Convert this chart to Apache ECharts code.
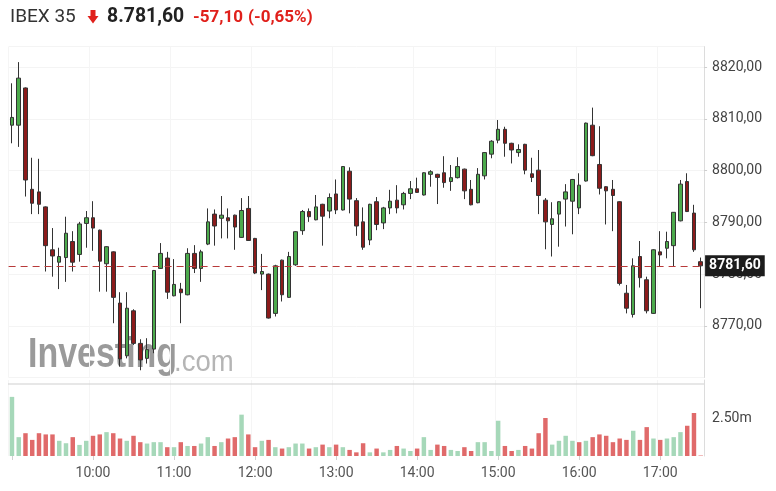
<!DOCTYPE html>
<html><head><meta charset="utf-8">
<script src="https://cdn.jsdelivr.net/npm/echarts@6/dist/echarts.min.js"></script>
<style>html,body{margin:0;padding:0;background:#fff}#c{width:776px;height:491px}</style>
</head><body><div id="c"></div>
<script>
// ---- header texts ----
const instrument = 'IBEX 35';
const lastPriceText = '8.781,60';
const changeText = '-57,10';
const changePctText = '(-0,65%)';

// ---- 5-minute session times (09:00 .. 17:30) ----
const categories = [];
for (let h = 9; h <= 17; h++) {
  for (let m = 0; m < 60; m += 5) {
    if (h === 17 && m > 30) break;
    categories.push(String(h).padStart(2, '0') + ':' + String(m).padStart(2, '0'));
  }
}

// ---- OHLC ----
const opens = [8808.8,8808.8,8816.0,8796.4,8795.9,8793.0,8784.7,8782.3,8783.2,8786.3,8783.8,8789.8,8790.9,8788.5,8782.0,8784.3,8774.4,8764.2,8772.9,8766.6,8763.7,8765.5,8781.1,8783.1,8775.8,
8777.1,8776.0,8784.0,8781.1,8785.8,8791.6,8790.8,8790.9,8791.4,8787.1,8792.7,8786.9,8780.0,8780.0,8772.4,8782.7,8775.5,8781.8,8788.4,8792.1,8790.5,8793.5,8792.2,8795.5,8792.4,8799.9,
8794.2,8790.1,8786.6,8794.0,8789.9,8792.8,8794.3,8793.4,8795.6,8796.5,8795.3,8799.3,8799.3,8799.6,8797.9,8798.65,8800.3,8796.4,8793.8,8799.0,8803.2,8805.9,8808.0,8805.3,8803.5,8805.1,
8799.4,8800.1,8794.3,8789.6,8791.6,8794.5,8794.1,8792.8,8798.0,8808.8,8801.2,8796.9,8796.4,8794.0,8776.3,8772.2,8783.4,8778.9,8772.4,8784.3,8785.0,8785.5,8790.3,8797.9,8791.8,8782.4];
const closes = [8810.3,8817.9,8798.2,8793.7,8793.5,8785.5,8783.5,8783.4,8787.9,8782.3,8789.7,8790.9,8788.9,8782.5,8785.3,8775.5,8763.6,8773.4,8766.6,8763.4,8765.4,8780.7,8784.0,8776.5,8778.0,
8776.4,8784.0,8781.1,8784.3,8790.1,8789.3,8791.4,8790.3,8789.1,8792.3,8786.5,8780.2,8780.5,8771.5,8781.6,8776.0,8783.4,8788.2,8792.1,8791.1,8793.0,8791.2,8794.8,8792.4,8800.8,8794.5,
8789.3,8785.2,8793.5,8789.6,8792.8,8794.1,8792.8,8795.6,8796.5,8795.8,8799.6,8799.8,8798.7,8797.7,8798.65,8800.8,8796.1,8793.4,8799.3,8803.5,8805.7,8808.0,8805.3,8804.0,8804.1,8800.1,
8798.7,8795.2,8790.1,8790.7,8794.0,8795.9,8798.3,8797.2,8809.2,8802.9,8796.6,8796.1,8795.2,8778.2,8773.4,8781.6,8779.3,8772.9,8784.7,8783.7,8786.3,8791.95,8797.4,8792.1,8784.7,8781.6];
const lows = [8805.3,8804.6,8795.0,8791.6,8791.6,8780.5,8779.5,8777.1,8778.5,8780.5,8782.4,8785.1,8784.5,8776.6,8776.6,8770.5,8762.1,8763.7,8766.3,8761.4,8762.7,8764.7,8781.0,8775.2,8775.7,
8770.5,8775.9,8780.2,8778.5,8785.6,8785.5,8786.9,8786.9,8784.7,8787.0,8786.4,8780.0,8776.9,8771.4,8771.8,8774.7,8775.4,8781.6,8787.6,8790.1,8790.4,8785.5,8790.8,8791.6,8792.3,8791.75,
8787.4,8784.7,8785.6,8788.5,8788.7,8791.6,8791.75,8792.5,8794.5,8795.7,8795.2,8796.9,8793.55,8796.7,8796.1,8798.5,8794.5,8793.3,8793.7,8798.3,8802.4,8805.3,8802.7,8801.4,8802.7,8799.3,
8797.8,8791.6,8784.8,8783.4,8785.3,8789.2,8787.7,8791.6,8797.9,8802.8,8795.4,8789.6,8788.3,8777.8,8772.4,8771.6,8777.4,8772.4,8772.3,8781.4,8783.05,8781.4,8790.2,8792.0,8784.3,8773.4];
const highs = [8816.9,8821.0,8816.1,8802.5,8802.3,8793.1,8788.9,8785.1,8791.1,8788.3,8790.1,8792.2,8794.1,8788.6,8785.4,8784.4,8776.5,8776.5,8773.2,8767.4,8767.6,8780.8,8786.0,8784.3,8782.9,
8778.3,8785.0,8785.6,8784.7,8792.7,8792.5,8795.1,8792.7,8791.5,8794.7,8795.1,8787.0,8783.9,8780.1,8781.8,8782.8,8784.3,8788.3,8792.4,8792.7,8795.3,8793.6,8795.6,8798.3,8800.9,8800.65,
8794.7,8792.9,8793.6,8794.9,8793.0,8796.3,8797.2,8795.9,8798.0,8798.65,8799.7,8800.1,8799.4,8802.8,8801.1,8802.6,8800.4,8798.2,8800.5,8803.6,8805.9,8809.8,8808.5,8805.4,8805.1,8805.2,
8802.5,8804.0,8794.7,8793.9,8794.1,8797.4,8798.4,8799.5,8809.3,8812.2,8808.6,8797.0,8798.2,8794.1,8777.9,8783.05,8786.4,8779.5,8784.8,8788.3,8788.2,8792.0,8798.2,8799.5,8793.4,8783.2];

// ---- volume in millions, and bar direction (1 = green, 0 = red) ----
const volumes = [3.89,1.24,1.50,1.06,1.50,1.42,1.42,1.00,0.84,1.24,0.73,1.00,1.33,1.42,1.57,1.50,1.15,1.00,1.33,0.91,0.82,0.91,0.91,0.58,0.58,
0.91,0.66,0.66,0.82,1.24,0.66,0.91,1.15,1.24,2.72,1.42,0.58,1.00,1.06,0.58,0.49,0.58,0.82,0.82,0.49,0.58,0.75,0.58,0.75,0.58,0.40,
0.24,0.84,0.24,0.49,0.24,0.40,0.66,0.49,0.33,0.49,1.24,0.40,0.75,0.66,0.40,0.33,0.58,0.33,0.91,0.91,0.33,2.32,0.66,0.33,0.40,0.66,
0.49,1.50,2.50,0.75,1.00,1.33,1.00,0.91,1.00,1.24,1.42,1.33,0.91,1.15,1.06,1.66,1.06,1.90,1.15,1.06,1.15,1.24,1.57,1.99,2.83,0.03];
const volUp = [1,1,0,0,0,0,0,1,1,0,1,1,0,0,1,0,0,1,0,0,1,1,1,0,1,
0,1,0,1,1,0,1,0,0,1,0,0,1,0,1,0,1,1,1,0,1,0,1,0,1,0,
0,0,1,0,1,1,0,1,1,0,1,1,0,0,1,1,0,0,1,1,1,1,0,0,1,0,
0,0,0,1,1,1,1,0,1,0,0,0,0,0,0,1,0,0,1,0,1,1,1,0,0,0];

// ---- axis settings ----
const priceMin = 8760, priceMax = 8824, priceStep = 10;
const volMin = 0, volMax = 5, volStep = 2.5, volLabelValue = 2.5;

const UP = '#4caa4c', DOWN = '#8b1b1b';
const VUP = '#a6d8b9', VDOWN = '#e06a6a';
const fmt = v => v.toFixed(2).replace('.', ',');
const isHour = i => categories[i] && categories[i].endsWith(':00');

const chart = echarts.init(document.getElementById('c'));
const lastClose = closes[closes.length - 1];

chart.setOption({
  animation: false,
  backgroundColor: '#fff',
  textStyle: { fontFamily: 'Roboto, Arial, sans-serif' },
  grid: [
    { left: 8.6, right: 71.9, top: 46.6, bottom: 113.5 },
    { left: 8.6, right: 71.9, top: 380, height: 76 }
  ],
  xAxis: [
    { type: 'category', gridIndex: 0, data: categories, boundaryGap: true,
      axisLine: { show: false }, axisTick: { show: false }, axisLabel: { show: false },
      splitLine: { show: true, interval: (i) => isHour(i), lineStyle: { color: '#f5f5f5' } } },
    { type: 'category', gridIndex: 1, data: categories, boundaryGap: true,
      axisLine: { show: false },
      axisTick: { show: true, alignWithLabel: true, interval: (i) => isHour(i), length: 4, lineStyle: { color: '#d0d0d0' } },
      axisLabel: { interval: (i) => isHour(i) && i > 0, fontSize: 14, color: '#555', margin: 10, fontFamily: 'Roboto' },
      splitLine: { show: true, interval: (i) => isHour(i), lineStyle: { color: '#f5f5f5' } } }
  ],
  yAxis: [
    { type: 'value', gridIndex: 0, position: 'right', min: priceMin, max: priceMax, interval: priceStep,
      axisLine: { show: true, lineStyle: { color: '#dcdcdc' } },
      axisTick: { show: true, length: 3, lineStyle: { color: '#cfcfcf' } },
      axisLabel: { formatter: fmt, fontSize: 14, color: '#444', margin: 8, showMaxLabel: false, showMinLabel: false, fontFamily: 'Roboto' },
      splitLine: { show: true, lineStyle: { color: '#f4f4f4' } } },
    { type: 'value', gridIndex: 1, position: 'right', min: volMin, max: volMax, interval: volStep,
      axisLine: { show: true, lineStyle: { color: '#dcdcdc' } },
      axisTick: { show: false },
      axisLabel: { formatter: v => v === volLabelValue ? volLabelValue.toFixed(2) + 'm' : '', fontSize: 14, color: '#444', margin: 8, fontFamily: 'Roboto' },
      splitLine: { show: false } }
  ],
  graphic: [
    { type: 'line', shape: { x1: 8, y1: 384, x2: 704, y2: 384 }, style: { stroke: '#cfcfcf', lineWidth: 1 }, z: 1 },
    { type: 'text', x: 28, y: 377, scaleX: 0.79, z: 0,
      style: { text: 'Investing', font: 'bold 43px "Liberation Sans", Arial', fill: 'rgba(125,125,125,0.78)', textVerticalAlign: 'bottom' } },
    { type: 'text', x: 174, y: 377, scaleX: 0.95, z: 0,
      style: { text: '.com', font: '29px "Liberation Sans", Arial', fill: 'rgba(150,150,150,0.7)', textVerticalAlign: 'bottom' } },
    { type: 'text', x: 10, y: 17, style: { text: instrument, font: '19px Roboto', fill: '#333', textVerticalAlign: 'middle' } },
    { type: 'polygon', shape: { points: [[90.5,10],[95.5,10],[95.5,16],[98.5,16],[93,23.5],[87.5,16],[90.5,16]] }, style: { fill: '#e0201b' } },
    { type: 'text', x: 107, y: 17, scaleX: 0.97, style: { text: lastPriceText, font: 'bold 20px Roboto', fill: '#222', textVerticalAlign: 'middle' } },
    { type: 'text', x: 193, y: 17.5, style: { text: changeText, font: 'bold 17px Roboto', fill: '#e0201b', textVerticalAlign: 'middle' } },
    { type: 'text', x: 248, y: 17.5, style: { text: changePctText, font: 'bold 17px Roboto', fill: '#e0201b', textVerticalAlign: 'middle' } }
  ],
  series: [
    { type: 'candlestick', xAxisIndex: 0, yAxisIndex: 0, barWidth: 4,
      data: opens.map((o, i) => [o, closes[i], lows[i], highs[i]]),
      itemStyle: { color: UP, color0: DOWN, borderColor: '#333', borderColor0: '#333', borderWidth: 1 },
      markLine: { silent: true, symbol: ['none', 'none'], animation: false,
        data: [{ yAxis: lastClose }],
        lineStyle: { color: '#b83a3a', type: [7, 5], width: 1 },
        label: { position: 'end', distance: 1, formatter: () => fmt(lastClose), backgroundColor: '#1c1c1c', color: '#fff',
          fontSize: 14, fontWeight: 'bold', padding: [4, 4, 3, 4], fontFamily: 'Roboto' } } },
    { type: 'bar', xAxisIndex: 1, yAxisIndex: 1, barWidth: '66%',
      data: volumes.map((v, i) => ({ value: v, itemStyle: { color: volUp[i] ? VUP : VDOWN } })) }
  ]
});
</script></body></html>
